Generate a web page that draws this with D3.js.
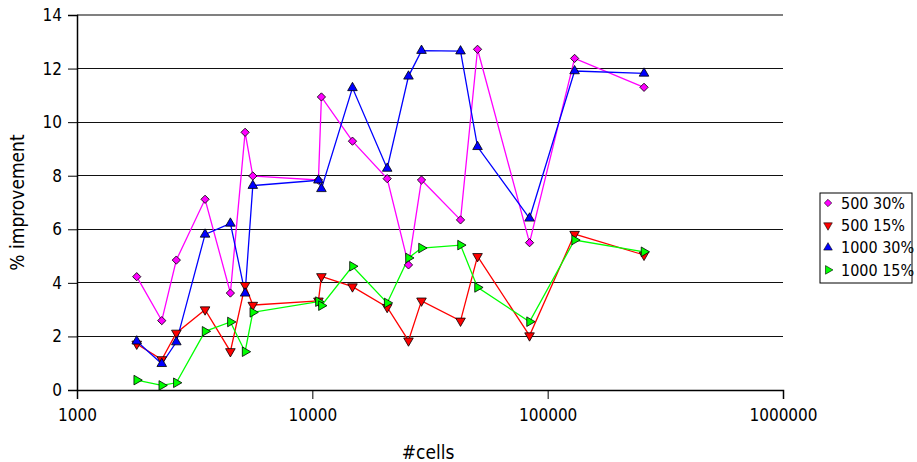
<!DOCTYPE html>
<html>
<head>
<meta charset="utf-8">
<script src="https://cdn.jsdelivr.net/npm/d3@7"></script>
<style>
  body { margin: 0; background: #fff; }
  svg text { font-family: "DejaVu Sans Condensed", "DejaVu Sans", sans-serif; font-stretch: condensed; fill: #000; }
</style>
</head>
<body>
<div id="chart"></div>
<script>
// number of cells (x, log scale)
const cells = [1794, 2292, 2643, 3501, 4486, 5180, 5585, 10615, 10930, 14810,
               20800, 25620, 29100, 42630, 50350, 83750, 130150, 256700];

const s500_30  = [4.23, 2.59, 4.85, 7.12, 3.62, 9.62, 7.99, 7.84, 10.94, 9.29,
                  7.89, 4.67, 7.84, 6.35, 12.72, 5.50, 12.38, 11.30];
const s500_15  = [1.72, 1.14, 2.13, 3.00, 1.44, 3.91, 3.17, 3.33, 4.24, 3.86,
                  3.09, 1.84, 3.33, 2.58, 4.99, 2.03, 5.82, 5.04];
const s1000_30 = [1.82, 0.98, 1.79, 5.81, 6.22, 3.61, 7.63, 7.83, 7.51, 11.28,
                  8.27, 11.71, 12.67, 12.65, 9.08, 6.41, 11.91, 11.82];
const s1000_15 = [0.37, 0.17, 0.27, 2.19, 2.54, 1.43, 2.90, 3.30, 3.15, 4.62,
                  3.25, 4.93, 5.30, 5.41, 3.83, 2.55, 5.60, 5.16];

const seriesNames = ["500 30%", "500 15%", "1000 30%", "1000 15%"];
const xTicks = [1000, 10000, 100000, 1000000];
const yTicks = [0, 2, 4, 6, 8, 10, 12, 14];

const series = [
  {name: seriesNames[0], values: s500_30,  color: "#ff00ff", shape: d3.symbolSquare,   rot: 45,  size: 34},
  {name: seriesNames[1], values: s500_15,  color: "#ff0000", shape: d3.symbolTriangle, rot: 180, size: 40},
  {name: seriesNames[2], values: s1000_30, color: "#0000ff", shape: d3.symbolTriangle, rot: 0,   size: 40},
  {name: seriesNames[3], values: s1000_15, color: "#00ff00", shape: d3.symbolTriangle, rot: 90,  size: 40}
];

const W = 917, H = 462;
const x = d3.scaleLog().domain([1000, 1000000]).range([77, 783]);
const y = d3.scaleLinear().domain([0, 14]).range([390, 15]);

const svg = d3.select("#chart").append("svg")
  .attr("width", W)
  .attr("height", H);

// horizontal gridlines
svg.append("g")
  .selectAll("line")
  .data(yTicks.filter(d => d > 0 && d < 14))
  .join("line")
  .attr("x1", x(1000)).attr("x2", 783)
  .attr("y1", d => y(d)).attr("y2", d => y(d))
  .attr("stroke", "#111")
  .attr("stroke-width", 1)
  .attr("shape-rendering", "crispEdges");

// top border
svg.append("line")
  .attr("x1", x(1000)).attr("x2", 783)
  .attr("y1", y(14)).attr("y2", y(14))
  .attr("stroke", "#808080")
  .attr("stroke-width", 2);

// y axis
const yAxis = svg.append("g")
  .attr("transform", "translate(" + x(1000) + ",0)")
  .call(d3.axisLeft(y).tickValues(yTicks).tickSize(9).tickPadding(6).tickFormat(d3.format("d")));
yAxis.select(".domain").attr("stroke", "#000").attr("stroke-width", 1.5);
yAxis.selectAll(".tick line").attr("stroke", "#000");
yAxis.selectAll("text").style("font-size", "17px").attr("fill", "#000");

// x axis
const xAxis = svg.append("g")
  .attr("transform", "translate(0," + y(0) + ")")
  .call(d3.axisBottom(x).tickValues(xTicks).tickSize(9).tickPadding(10).tickFormat(d3.format("d")));
xAxis.select(".domain").attr("stroke", "#000").attr("stroke-width", 1.5);
xAxis.selectAll(".tick line").attr("stroke", "#000");
xAxis.selectAll("text").style("font-size", "17px").attr("fill", "#000");

// series lines
const line = d3.line()
  .x((d, i) => x(cells[i]))
  .y(d => y(d));

series.forEach(s => {
  svg.append("path")
    .datum(s.values)
    .attr("d", line)
    .attr("fill", "none")
    .attr("stroke", s.color)
    .attr("stroke-width", 1.3);
});

// markers
series.forEach(s => {
  const sym = d3.symbol().type(s.shape).size(s.size);
  svg.append("g")
    .selectAll("path")
    .data(s.values)
    .join("path")
    .attr("d", sym)
    .attr("transform", (d, i) => "translate(" + x(cells[i]) + "," + y(d) + ") rotate(" + s.rot + ")")
    .attr("fill", s.color)
    .attr("stroke", "#000")
    .attr("stroke-width", 0.8);
});

// axis titles
svg.append("text")
  .attr("x", 428).attr("y", 459)
  .attr("text-anchor", "middle")
  .style("font-size", "19px")
  .text("#cells");

svg.append("text")
  .attr("transform", "translate(24," + ((y(0) + y(14)) / 2) + ") rotate(-90)")
  .attr("text-anchor", "middle")
  .style("font-size", "19px")
  .text("% improvement");

// legend
const legend = svg.append("g").attr("transform", "translate(820,193)");
legend.append("rect")
  .attr("width", 92).attr("height", 90)
  .attr("fill", "#fff")
  .attr("stroke", "#000")
  .attr("stroke-width", 1);

const rows = legend.selectAll("g.row")
  .data(series)
  .join("g")
  .attr("class", "row")
  .attr("transform", (d, i) => "translate(0," + (10 + i * 22.3) + ")");

rows.append("path")
  .attr("d", d => d3.symbol().type(d.shape).size(d.size * 0.8)())
  .attr("transform", d => "translate(8,0) rotate(" + d.rot + ")")
  .attr("fill", d => d.color)
  .attr("stroke", "#000")
  .attr("stroke-width", 0.6);

rows.append("text")
  .attr("x", 21).attr("dy", "0.35em")
  .style("font-size", "16px")
  .text(d => d.name);
</script>
</body>
</html>
